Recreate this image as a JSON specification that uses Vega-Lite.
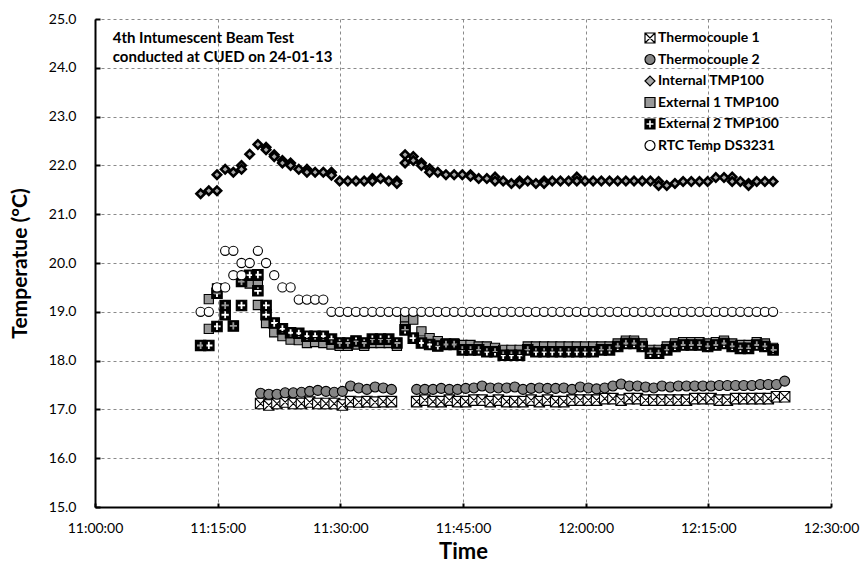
{
  "$schema": "https://vega.github.io/schema/vega-lite/v6.json",
  "width": 736,
  "height": 488,
  "autosize": {"type": "none"},
  "padding": {"left": 95, "top": 19, "right": 33, "bottom": 56},
  "background": "white",
  "config": {"view": {"stroke": null}, "font": "Lato"},
  "datasets": {
    "pts": [
      {"s":"Thermocouple 1","t":"2013-01-24T11:20:15","v":17.12},{"s":"Thermocouple 1","t":"2013-01-24T11:21:15","v":17.09},{"s":"Thermocouple 1","t":"2013-01-24T11:22:15","v":17.12},{"s":"Thermocouple 1","t":"2013-01-24T11:23:15","v":17.15},{"s":"Thermocouple 1","t":"2013-01-24T11:24:15","v":17.12},{"s":"Thermocouple 1","t":"2013-01-24T11:25:15","v":17.12},{"s":"Thermocouple 1","t":"2013-01-24T11:26:15","v":17.15},{"s":"Thermocouple 1","t":"2013-01-24T11:27:15","v":17.12},{"s":"Thermocouple 1","t":"2013-01-24T11:28:15","v":17.12},{"s":"Thermocouple 1","t":"2013-01-24T11:29:15","v":17.12},{"s":"Thermocouple 1","t":"2013-01-24T11:30:15","v":17.09},{"s":"Thermocouple 1","t":"2013-01-24T11:31:15","v":17.16},{"s":"Thermocouple 1","t":"2013-01-24T11:32:15","v":17.15},{"s":"Thermocouple 1","t":"2013-01-24T11:33:15","v":17.16},{"s":"Thermocouple 1","t":"2013-01-24T11:34:15","v":17.15},{"s":"Thermocouple 1","t":"2013-01-24T11:35:15","v":17.16},{"s":"Thermocouple 1","t":"2013-01-24T11:36:15","v":17.16},
      {"s":"Thermocouple 1","t":"2013-01-24T11:39:20","v":17.16},{"s":"Thermocouple 1","t":"2013-01-24T11:40:20","v":17.19},{"s":"Thermocouple 1","t":"2013-01-24T11:41:20","v":17.16},{"s":"Thermocouple 1","t":"2013-01-24T11:42:20","v":17.16},{"s":"Thermocouple 1","t":"2013-01-24T11:43:20","v":17.19},{"s":"Thermocouple 1","t":"2013-01-24T11:44:20","v":17.16},{"s":"Thermocouple 1","t":"2013-01-24T11:45:20","v":17.16},{"s":"Thermocouple 1","t":"2013-01-24T11:46:20","v":17.19},{"s":"Thermocouple 1","t":"2013-01-24T11:47:20","v":17.19},{"s":"Thermocouple 1","t":"2013-01-24T11:48:20","v":17.16},{"s":"Thermocouple 1","t":"2013-01-24T11:49:20","v":17.19},{"s":"Thermocouple 1","t":"2013-01-24T11:50:20","v":17.16},{"s":"Thermocouple 1","t":"2013-01-24T11:51:20","v":17.16},{"s":"Thermocouple 1","t":"2013-01-24T11:52:20","v":17.16},{"s":"Thermocouple 1","t":"2013-01-24T11:53:20","v":17.19},{"s":"Thermocouple 1","t":"2013-01-24T11:54:20","v":17.16},{"s":"Thermocouple 1","t":"2013-01-24T11:55:20","v":17.19},{"s":"Thermocouple 1","t":"2013-01-24T11:56:20","v":17.16},{"s":"Thermocouple 1","t":"2013-01-24T11:57:20","v":17.16},{"s":"Thermocouple 1","t":"2013-01-24T11:58:20","v":17.19},{"s":"Thermocouple 1","t":"2013-01-24T11:59:20","v":17.19},{"s":"Thermocouple 1","t":"2013-01-24T12:00:20","v":17.19},{"s":"Thermocouple 1","t":"2013-01-24T12:01:20","v":17.19},{"s":"Thermocouple 1","t":"2013-01-24T12:02:20","v":17.22},{"s":"Thermocouple 1","t":"2013-01-24T12:03:20","v":17.22},{"s":"Thermocouple 1","t":"2013-01-24T12:04:20","v":17.19},{"s":"Thermocouple 1","t":"2013-01-24T12:05:20","v":17.22},{"s":"Thermocouple 1","t":"2013-01-24T12:06:20","v":17.22},{"s":"Thermocouple 1","t":"2013-01-24T12:07:20","v":17.19},{"s":"Thermocouple 1","t":"2013-01-24T12:08:20","v":17.19},{"s":"Thermocouple 1","t":"2013-01-24T12:09:20","v":17.19},{"s":"Thermocouple 1","t":"2013-01-24T12:10:20","v":17.19},{"s":"Thermocouple 1","t":"2013-01-24T12:11:20","v":17.19},{"s":"Thermocouple 1","t":"2013-01-24T12:12:20","v":17.19},{"s":"Thermocouple 1","t":"2013-01-24T12:13:20","v":17.22},{"s":"Thermocouple 1","t":"2013-01-24T12:14:20","v":17.22},{"s":"Thermocouple 1","t":"2013-01-24T12:15:20","v":17.22},{"s":"Thermocouple 1","t":"2013-01-24T12:16:20","v":17.19},{"s":"Thermocouple 1","t":"2013-01-24T12:17:20","v":17.19},{"s":"Thermocouple 1","t":"2013-01-24T12:18:20","v":17.22},{"s":"Thermocouple 1","t":"2013-01-24T12:19:20","v":17.22},{"s":"Thermocouple 1","t":"2013-01-24T12:20:20","v":17.22},{"s":"Thermocouple 1","t":"2013-01-24T12:21:20","v":17.22},{"s":"Thermocouple 1","t":"2013-01-24T12:22:20","v":17.22},{"s":"Thermocouple 1","t":"2013-01-24T12:23:20","v":17.26},{"s":"Thermocouple 1","t":"2013-01-24T12:24:20","v":17.26},
      {"s":"Thermocouple 2","t":"2013-01-24T11:20:15","v":17.33},{"s":"Thermocouple 2","t":"2013-01-24T11:21:15","v":17.31},{"s":"Thermocouple 2","t":"2013-01-24T11:22:15","v":17.31},{"s":"Thermocouple 2","t":"2013-01-24T11:23:15","v":17.34},{"s":"Thermocouple 2","t":"2013-01-24T11:24:15","v":17.34},{"s":"Thermocouple 2","t":"2013-01-24T11:25:15","v":17.35},{"s":"Thermocouple 2","t":"2013-01-24T11:26:15","v":17.37},{"s":"Thermocouple 2","t":"2013-01-24T11:27:15","v":17.39},{"s":"Thermocouple 2","t":"2013-01-24T11:28:15","v":17.37},{"s":"Thermocouple 2","t":"2013-01-24T11:29:15","v":17.35},{"s":"Thermocouple 2","t":"2013-01-24T11:30:15","v":17.37},{"s":"Thermocouple 2","t":"2013-01-24T11:31:15","v":17.48},{"s":"Thermocouple 2","t":"2013-01-24T11:32:15","v":17.44},{"s":"Thermocouple 2","t":"2013-01-24T11:33:15","v":17.41},{"s":"Thermocouple 2","t":"2013-01-24T11:34:15","v":17.46},{"s":"Thermocouple 2","t":"2013-01-24T11:35:15","v":17.44},{"s":"Thermocouple 2","t":"2013-01-24T11:36:15","v":17.41},
      {"s":"Thermocouple 2","t":"2013-01-24T11:39:20","v":17.41},{"s":"Thermocouple 2","t":"2013-01-24T11:40:20","v":17.41},{"s":"Thermocouple 2","t":"2013-01-24T11:41:20","v":17.41},{"s":"Thermocouple 2","t":"2013-01-24T11:42:20","v":17.43},{"s":"Thermocouple 2","t":"2013-01-24T11:43:20","v":17.41},{"s":"Thermocouple 2","t":"2013-01-24T11:44:20","v":17.41},{"s":"Thermocouple 2","t":"2013-01-24T11:45:20","v":17.43},{"s":"Thermocouple 2","t":"2013-01-24T11:46:20","v":17.44},{"s":"Thermocouple 2","t":"2013-01-24T11:47:20","v":17.48},{"s":"Thermocouple 2","t":"2013-01-24T11:48:20","v":17.44},{"s":"Thermocouple 2","t":"2013-01-24T11:49:20","v":17.44},{"s":"Thermocouple 2","t":"2013-01-24T11:50:20","v":17.44},{"s":"Thermocouple 2","t":"2013-01-24T11:51:20","v":17.46},{"s":"Thermocouple 2","t":"2013-01-24T11:52:20","v":17.41},{"s":"Thermocouple 2","t":"2013-01-24T11:53:20","v":17.43},{"s":"Thermocouple 2","t":"2013-01-24T11:54:20","v":17.44},{"s":"Thermocouple 2","t":"2013-01-24T11:55:20","v":17.43},{"s":"Thermocouple 2","t":"2013-01-24T11:56:20","v":17.43},{"s":"Thermocouple 2","t":"2013-01-24T11:57:20","v":17.44},{"s":"Thermocouple 2","t":"2013-01-24T11:58:20","v":17.41},{"s":"Thermocouple 2","t":"2013-01-24T11:59:20","v":17.46},{"s":"Thermocouple 2","t":"2013-01-24T12:00:20","v":17.44},{"s":"Thermocouple 2","t":"2013-01-24T12:01:20","v":17.42},{"s":"Thermocouple 2","t":"2013-01-24T12:02:20","v":17.44},{"s":"Thermocouple 2","t":"2013-01-24T12:03:20","v":17.48},{"s":"Thermocouple 2","t":"2013-01-24T12:04:20","v":17.52},{"s":"Thermocouple 2","t":"2013-01-24T12:05:20","v":17.48},{"s":"Thermocouple 2","t":"2013-01-24T12:06:20","v":17.48},{"s":"Thermocouple 2","t":"2013-01-24T12:07:20","v":17.46},{"s":"Thermocouple 2","t":"2013-01-24T12:08:20","v":17.44},{"s":"Thermocouple 2","t":"2013-01-24T12:09:20","v":17.48},{"s":"Thermocouple 2","t":"2013-01-24T12:10:20","v":17.46},{"s":"Thermocouple 2","t":"2013-01-24T12:11:20","v":17.48},{"s":"Thermocouple 2","t":"2013-01-24T12:12:20","v":17.48},{"s":"Thermocouple 2","t":"2013-01-24T12:13:20","v":17.48},{"s":"Thermocouple 2","t":"2013-01-24T12:14:20","v":17.48},{"s":"Thermocouple 2","t":"2013-01-24T12:15:20","v":17.48},{"s":"Thermocouple 2","t":"2013-01-24T12:16:20","v":17.49},{"s":"Thermocouple 2","t":"2013-01-24T12:17:20","v":17.49},{"s":"Thermocouple 2","t":"2013-01-24T12:18:20","v":17.49},{"s":"Thermocouple 2","t":"2013-01-24T12:19:20","v":17.49},{"s":"Thermocouple 2","t":"2013-01-24T12:20:20","v":17.49},{"s":"Thermocouple 2","t":"2013-01-24T12:21:20","v":17.51},{"s":"Thermocouple 2","t":"2013-01-24T12:22:20","v":17.51},{"s":"Thermocouple 2","t":"2013-01-24T12:23:20","v":17.51},{"s":"Thermocouple 2","t":"2013-01-24T12:24:20","v":17.58},
      {"s":"Internal TMP100","t":"2013-01-24T11:12:55","v":21.42},{"s":"Internal TMP100","t":"2013-01-24T11:13:55","v":21.48},{"s":"Internal TMP100","t":"2013-01-24T11:14:55","v":21.48},{"s":"Internal TMP100","t":"2013-01-24T11:14:55","v":21.81},{"s":"Internal TMP100","t":"2013-01-24T11:15:55","v":21.92},{"s":"Internal TMP100","t":"2013-01-24T11:16:55","v":21.86},{"s":"Internal TMP100","t":"2013-01-24T11:17:55","v":22.0},{"s":"Internal TMP100","t":"2013-01-24T11:17:55","v":21.92},{"s":"Internal TMP100","t":"2013-01-24T11:18:55","v":22.23},{"s":"Internal TMP100","t":"2013-01-24T11:19:55","v":22.43},{"s":"Internal TMP100","t":"2013-01-24T11:20:55","v":22.37},{"s":"Internal TMP100","t":"2013-01-24T11:20:55","v":22.32},{"s":"Internal TMP100","t":"2013-01-24T11:21:55","v":22.22},{"s":"Internal TMP100","t":"2013-01-24T11:21:55","v":22.18},{"s":"Internal TMP100","t":"2013-01-24T11:22:55","v":22.1},{"s":"Internal TMP100","t":"2013-01-24T11:22:55","v":22.05},{"s":"Internal TMP100","t":"2013-01-24T11:23:55","v":22.05},{"s":"Internal TMP100","t":"2013-01-24T11:23:55","v":22.0},{"s":"Internal TMP100","t":"2013-01-24T11:24:55","v":21.92},{"s":"Internal TMP100","t":"2013-01-24T11:25:55","v":21.92},{"s":"Internal TMP100","t":"2013-01-24T11:25:55","v":21.86},{"s":"Internal TMP100","t":"2013-01-24T11:26:55","v":21.86},{"s":"Internal TMP100","t":"2013-01-24T11:27:55","v":21.86},{"s":"Internal TMP100","t":"2013-01-24T11:28:55","v":21.86},{"s":"Internal TMP100","t":"2013-01-24T11:28:55","v":21.8},{"s":"Internal TMP100","t":"2013-01-24T11:29:55","v":21.68},{"s":"Internal TMP100","t":"2013-01-24T11:30:55","v":21.68},{"s":"Internal TMP100","t":"2013-01-24T11:31:55","v":21.68},{"s":"Internal TMP100","t":"2013-01-24T11:32:55","v":21.68},{"s":"Internal TMP100","t":"2013-01-24T11:33:55","v":21.73},{"s":"Internal TMP100","t":"2013-01-24T11:33:55","v":21.68},{"s":"Internal TMP100","t":"2013-01-24T11:34:55","v":21.73},{"s":"Internal TMP100","t":"2013-01-24T11:35:55","v":21.68},{"s":"Internal TMP100","t":"2013-01-24T11:36:55","v":21.68},{"s":"Internal TMP100","t":"2013-01-24T11:36:55","v":21.63},{"s":"Internal TMP100","t":"2013-01-24T11:37:55","v":22.22},{"s":"Internal TMP100","t":"2013-01-24T11:37:55","v":22.05},{"s":"Internal TMP100","t":"2013-01-24T11:38:55","v":22.18},{"s":"Internal TMP100","t":"2013-01-24T11:38:55","v":22.1},{"s":"Internal TMP100","t":"2013-01-24T11:39:55","v":22.05},{"s":"Internal TMP100","t":"2013-01-24T11:39:55","v":22.0},{"s":"Internal TMP100","t":"2013-01-24T11:40:55","v":21.93},{"s":"Internal TMP100","t":"2013-01-24T11:40:55","v":21.86},{"s":"Internal TMP100","t":"2013-01-24T11:41:55","v":21.86},{"s":"Internal TMP100","t":"2013-01-24T11:42:55","v":21.81},{"s":"Internal TMP100","t":"2013-01-24T11:43:55","v":21.81},{"s":"Internal TMP100","t":"2013-01-24T11:44:55","v":21.81},{"s":"Internal TMP100","t":"2013-01-24T11:45:55","v":21.81},{"s":"Internal TMP100","t":"2013-01-24T11:45:55","v":21.78},{"s":"Internal TMP100","t":"2013-01-24T11:46:55","v":21.73},{"s":"Internal TMP100","t":"2013-01-24T11:47:55","v":21.73},{"s":"Internal TMP100","t":"2013-01-24T11:48:55","v":21.76},{"s":"Internal TMP100","t":"2013-01-24T11:48:55","v":21.68},{"s":"Internal TMP100","t":"2013-01-24T11:49:55","v":21.68},{"s":"Internal TMP100","t":"2013-01-24T11:50:55","v":21.63},{"s":"Internal TMP100","t":"2013-01-24T11:51:55","v":21.68},{"s":"Internal TMP100","t":"2013-01-24T11:51:55","v":21.63},{"s":"Internal TMP100","t":"2013-01-24T11:52:55","v":21.68},{"s":"Internal TMP100","t":"2013-01-24T11:53:55","v":21.63},{"s":"Internal TMP100","t":"2013-01-24T11:54:55","v":21.68},{"s":"Internal TMP100","t":"2013-01-24T11:54:55","v":21.63},{"s":"Internal TMP100","t":"2013-01-24T11:55:55","v":21.68},{"s":"Internal TMP100","t":"2013-01-24T11:56:55","v":21.68},{"s":"Internal TMP100","t":"2013-01-24T11:57:55","v":21.68},{"s":"Internal TMP100","t":"2013-01-24T11:58:55","v":21.76},{"s":"Internal TMP100","t":"2013-01-24T11:58:55","v":21.68},{"s":"Internal TMP100","t":"2013-01-24T11:59:55","v":21.68},{"s":"Internal TMP100","t":"2013-01-24T12:00:55","v":21.68},{"s":"Internal TMP100","t":"2013-01-24T12:01:55","v":21.68},{"s":"Internal TMP100","t":"2013-01-24T12:02:55","v":21.68},{"s":"Internal TMP100","t":"2013-01-24T12:03:55","v":21.68},{"s":"Internal TMP100","t":"2013-01-24T12:04:55","v":21.68},{"s":"Internal TMP100","t":"2013-01-24T12:05:55","v":21.68},{"s":"Internal TMP100","t":"2013-01-24T12:06:55","v":21.68},{"s":"Internal TMP100","t":"2013-01-24T12:07:55","v":21.68},{"s":"Internal TMP100","t":"2013-01-24T12:08:55","v":21.67},{"s":"Internal TMP100","t":"2013-01-24T12:08:55","v":21.59},{"s":"Internal TMP100","t":"2013-01-24T12:09:55","v":21.59},{"s":"Internal TMP100","t":"2013-01-24T12:10:55","v":21.63},{"s":"Internal TMP100","t":"2013-01-24T12:11:55","v":21.67},{"s":"Internal TMP100","t":"2013-01-24T12:12:55","v":21.67},{"s":"Internal TMP100","t":"2013-01-24T12:13:55","v":21.67},{"s":"Internal TMP100","t":"2013-01-24T12:14:55","v":21.67},{"s":"Internal TMP100","t":"2013-01-24T12:15:55","v":21.75},{"s":"Internal TMP100","t":"2013-01-24T12:16:55","v":21.75},{"s":"Internal TMP100","t":"2013-01-24T12:17:55","v":21.76},{"s":"Internal TMP100","t":"2013-01-24T12:17:55","v":21.67},{"s":"Internal TMP100","t":"2013-01-24T12:18:55","v":21.67},{"s":"Internal TMP100","t":"2013-01-24T12:19:55","v":21.63},{"s":"Internal TMP100","t":"2013-01-24T12:19:55","v":21.59},{"s":"Internal TMP100","t":"2013-01-24T12:20:55","v":21.67},{"s":"Internal TMP100","t":"2013-01-24T12:21:55","v":21.67},{"s":"Internal TMP100","t":"2013-01-24T12:22:55","v":21.67},
      {"s":"External 1 TMP100","t":"2013-01-24T11:12:55","v":18.31},{"s":"External 1 TMP100","t":"2013-01-24T11:13:55","v":19.26},{"s":"External 1 TMP100","t":"2013-01-24T11:13:55","v":18.65},{"s":"External 1 TMP100","t":"2013-01-24T11:14:55","v":19.48},{"s":"External 1 TMP100","t":"2013-01-24T11:15:55","v":19.13},{"s":"External 1 TMP100","t":"2013-01-24T11:16:55","v":18.71},{"s":"External 1 TMP100","t":"2013-01-24T11:17:55","v":19.62},{"s":"External 1 TMP100","t":"2013-01-24T11:18:55","v":19.58},{"s":"External 1 TMP100","t":"2013-01-24T11:19:55","v":19.55},{"s":"External 1 TMP100","t":"2013-01-24T11:19:55","v":19.14},{"s":"External 1 TMP100","t":"2013-01-24T11:20:55","v":18.77},{"s":"External 1 TMP100","t":"2013-01-24T11:21:55","v":18.58},{"s":"External 1 TMP100","t":"2013-01-24T11:22:55","v":18.5},{"s":"External 1 TMP100","t":"2013-01-24T11:23:55","v":18.43},{"s":"External 1 TMP100","t":"2013-01-24T11:24:55","v":18.42},{"s":"External 1 TMP100","t":"2013-01-24T11:25:55","v":18.36},{"s":"External 1 TMP100","t":"2013-01-24T11:26:55","v":18.38},{"s":"External 1 TMP100","t":"2013-01-24T11:27:55","v":18.36},{"s":"External 1 TMP100","t":"2013-01-24T11:28:55","v":18.33},{"s":"External 1 TMP100","t":"2013-01-24T11:29:55","v":18.3},{"s":"External 1 TMP100","t":"2013-01-24T11:30:55","v":18.3},{"s":"External 1 TMP100","t":"2013-01-24T11:31:55","v":18.33},{"s":"External 1 TMP100","t":"2013-01-24T11:32:55","v":18.3},{"s":"External 1 TMP100","t":"2013-01-24T11:33:55","v":18.36},{"s":"External 1 TMP100","t":"2013-01-24T11:34:55","v":18.36},{"s":"External 1 TMP100","t":"2013-01-24T11:35:55","v":18.36},{"s":"External 1 TMP100","t":"2013-01-24T11:36:55","v":18.3},{"s":"External 1 TMP100","t":"2013-01-24T11:37:55","v":18.87},{"s":"External 1 TMP100","t":"2013-01-24T11:37:55","v":18.7},{"s":"External 1 TMP100","t":"2013-01-24T11:38:55","v":18.84},{"s":"External 1 TMP100","t":"2013-01-24T11:39:55","v":18.6},{"s":"External 1 TMP100","t":"2013-01-24T11:40:55","v":18.46},{"s":"External 1 TMP100","t":"2013-01-24T11:41:55","v":18.4},{"s":"External 1 TMP100","t":"2013-01-24T11:42:55","v":18.35},{"s":"External 1 TMP100","t":"2013-01-24T11:43:55","v":18.35},{"s":"External 1 TMP100","t":"2013-01-24T11:44:55","v":18.32},{"s":"External 1 TMP100","t":"2013-01-24T11:45:55","v":18.32},{"s":"External 1 TMP100","t":"2013-01-24T11:46:55","v":18.29},{"s":"External 1 TMP100","t":"2013-01-24T11:47:55","v":18.29},{"s":"External 1 TMP100","t":"2013-01-24T11:48:55","v":18.26},{"s":"External 1 TMP100","t":"2013-01-24T11:49:55","v":18.22},{"s":"External 1 TMP100","t":"2013-01-24T11:50:55","v":18.22},{"s":"External 1 TMP100","t":"2013-01-24T11:51:55","v":18.22},{"s":"External 1 TMP100","t":"2013-01-24T11:52:55","v":18.29},{"s":"External 1 TMP100","t":"2013-01-24T11:53:55","v":18.29},{"s":"External 1 TMP100","t":"2013-01-24T11:54:55","v":18.29},{"s":"External 1 TMP100","t":"2013-01-24T11:55:55","v":18.29},{"s":"External 1 TMP100","t":"2013-01-24T11:56:55","v":18.29},{"s":"External 1 TMP100","t":"2013-01-24T11:57:55","v":18.29},{"s":"External 1 TMP100","t":"2013-01-24T11:58:55","v":18.29},{"s":"External 1 TMP100","t":"2013-01-24T11:59:55","v":18.29},{"s":"External 1 TMP100","t":"2013-01-24T12:00:55","v":18.29},{"s":"External 1 TMP100","t":"2013-01-24T12:01:55","v":18.29},{"s":"External 1 TMP100","t":"2013-01-24T12:02:55","v":18.29},{"s":"External 1 TMP100","t":"2013-01-24T12:03:55","v":18.35},{"s":"External 1 TMP100","t":"2013-01-24T12:04:55","v":18.41},{"s":"External 1 TMP100","t":"2013-01-24T12:05:55","v":18.41},{"s":"External 1 TMP100","t":"2013-01-24T12:06:55","v":18.35},{"s":"External 1 TMP100","t":"2013-01-24T12:07:55","v":18.22},{"s":"External 1 TMP100","t":"2013-01-24T12:08:55","v":18.22},{"s":"External 1 TMP100","t":"2013-01-24T12:09:55","v":18.29},{"s":"External 1 TMP100","t":"2013-01-24T12:10:55","v":18.35},{"s":"External 1 TMP100","t":"2013-01-24T12:11:55","v":18.38},{"s":"External 1 TMP100","t":"2013-01-24T12:12:55","v":18.38},{"s":"External 1 TMP100","t":"2013-01-24T12:13:55","v":18.38},{"s":"External 1 TMP100","t":"2013-01-24T12:14:55","v":18.35},{"s":"External 1 TMP100","t":"2013-01-24T12:15:55","v":18.38},{"s":"External 1 TMP100","t":"2013-01-24T12:16:55","v":18.41},{"s":"External 1 TMP100","t":"2013-01-24T12:17:55","v":18.35},{"s":"External 1 TMP100","t":"2013-01-24T12:18:55","v":18.32},{"s":"External 1 TMP100","t":"2013-01-24T12:19:55","v":18.32},{"s":"External 1 TMP100","t":"2013-01-24T12:20:55","v":18.38},{"s":"External 1 TMP100","t":"2013-01-24T12:21:55","v":18.35},{"s":"External 1 TMP100","t":"2013-01-24T12:22:55","v":18.26},
      {"s":"External 2 TMP100","t":"2013-01-24T11:12:55","v":18.31},{"s":"External 2 TMP100","t":"2013-01-24T11:13:55","v":18.31},{"s":"External 2 TMP100","t":"2013-01-24T11:14:55","v":18.7},{"s":"External 2 TMP100","t":"2013-01-24T11:14:55","v":19.38},{"s":"External 2 TMP100","t":"2013-01-24T11:15:55","v":19.13},{"s":"External 2 TMP100","t":"2013-01-24T11:15:55","v":18.94},{"s":"External 2 TMP100","t":"2013-01-24T11:16:55","v":18.71},{"s":"External 2 TMP100","t":"2013-01-24T11:17:55","v":19.13},{"s":"External 2 TMP100","t":"2013-01-24T11:17:55","v":19.62},{"s":"External 2 TMP100","t":"2013-01-24T11:18:55","v":19.75},{"s":"External 2 TMP100","t":"2013-01-24T11:19:55","v":19.76},{"s":"External 2 TMP100","t":"2013-01-24T11:19:55","v":19.43},{"s":"External 2 TMP100","t":"2013-01-24T11:20:55","v":19.13},{"s":"External 2 TMP100","t":"2013-01-24T11:20:55","v":18.94},{"s":"External 2 TMP100","t":"2013-01-24T11:21:55","v":18.77},{"s":"External 2 TMP100","t":"2013-01-24T11:22:55","v":18.65},{"s":"External 2 TMP100","t":"2013-01-24T11:23:55","v":18.57},{"s":"External 2 TMP100","t":"2013-01-24T11:24:55","v":18.56},{"s":"External 2 TMP100","t":"2013-01-24T11:25:55","v":18.5},{"s":"External 2 TMP100","t":"2013-01-24T11:26:55","v":18.5},{"s":"External 2 TMP100","t":"2013-01-24T11:27:55","v":18.5},{"s":"External 2 TMP100","t":"2013-01-24T11:28:55","v":18.44},{"s":"External 2 TMP100","t":"2013-01-24T11:29:55","v":18.36},{"s":"External 2 TMP100","t":"2013-01-24T11:30:55","v":18.36},{"s":"External 2 TMP100","t":"2013-01-24T11:31:55","v":18.4},{"s":"External 2 TMP100","t":"2013-01-24T11:32:55","v":18.36},{"s":"External 2 TMP100","t":"2013-01-24T11:33:55","v":18.44},{"s":"External 2 TMP100","t":"2013-01-24T11:34:55","v":18.44},{"s":"External 2 TMP100","t":"2013-01-24T11:35:55","v":18.44},{"s":"External 2 TMP100","t":"2013-01-24T11:36:55","v":18.36},{"s":"External 2 TMP100","t":"2013-01-24T11:37:55","v":18.63},{"s":"External 2 TMP100","t":"2013-01-24T11:38:55","v":18.46},{"s":"External 2 TMP100","t":"2013-01-24T11:39:55","v":18.36},{"s":"External 2 TMP100","t":"2013-01-24T11:40:55","v":18.33},{"s":"External 2 TMP100","t":"2013-01-24T11:41:55","v":18.3},{"s":"External 2 TMP100","t":"2013-01-24T11:42:55","v":18.33},{"s":"External 2 TMP100","t":"2013-01-24T11:43:55","v":18.33},{"s":"External 2 TMP100","t":"2013-01-24T11:44:55","v":18.22},{"s":"External 2 TMP100","t":"2013-01-24T11:45:55","v":18.22},{"s":"External 2 TMP100","t":"2013-01-24T11:46:55","v":18.22},{"s":"External 2 TMP100","t":"2013-01-24T11:47:55","v":18.18},{"s":"External 2 TMP100","t":"2013-01-24T11:48:55","v":18.18},{"s":"External 2 TMP100","t":"2013-01-24T11:49:55","v":18.11},{"s":"External 2 TMP100","t":"2013-01-24T11:50:55","v":18.11},{"s":"External 2 TMP100","t":"2013-01-24T11:51:55","v":18.11},{"s":"External 2 TMP100","t":"2013-01-24T11:52:55","v":18.22},{"s":"External 2 TMP100","t":"2013-01-24T11:53:55","v":18.18},{"s":"External 2 TMP100","t":"2013-01-24T11:54:55","v":18.18},{"s":"External 2 TMP100","t":"2013-01-24T11:55:55","v":18.18},{"s":"External 2 TMP100","t":"2013-01-24T11:56:55","v":18.18},{"s":"External 2 TMP100","t":"2013-01-24T11:57:55","v":18.18},{"s":"External 2 TMP100","t":"2013-01-24T11:58:55","v":18.18},{"s":"External 2 TMP100","t":"2013-01-24T11:59:55","v":18.18},{"s":"External 2 TMP100","t":"2013-01-24T12:00:55","v":18.18},{"s":"External 2 TMP100","t":"2013-01-24T12:01:55","v":18.22},{"s":"External 2 TMP100","t":"2013-01-24T12:02:55","v":18.22},{"s":"External 2 TMP100","t":"2013-01-24T12:03:55","v":18.29},{"s":"External 2 TMP100","t":"2013-01-24T12:04:55","v":18.35},{"s":"External 2 TMP100","t":"2013-01-24T12:05:55","v":18.35},{"s":"External 2 TMP100","t":"2013-01-24T12:06:55","v":18.29},{"s":"External 2 TMP100","t":"2013-01-24T12:07:55","v":18.15},{"s":"External 2 TMP100","t":"2013-01-24T12:08:55","v":18.15},{"s":"External 2 TMP100","t":"2013-01-24T12:09:55","v":18.22},{"s":"External 2 TMP100","t":"2013-01-24T12:10:55","v":18.29},{"s":"External 2 TMP100","t":"2013-01-24T12:11:55","v":18.32},{"s":"External 2 TMP100","t":"2013-01-24T12:12:55","v":18.32},{"s":"External 2 TMP100","t":"2013-01-24T12:13:55","v":18.32},{"s":"External 2 TMP100","t":"2013-01-24T12:14:55","v":18.29},{"s":"External 2 TMP100","t":"2013-01-24T12:15:55","v":18.32},{"s":"External 2 TMP100","t":"2013-01-24T12:16:55","v":18.35},{"s":"External 2 TMP100","t":"2013-01-24T12:17:55","v":18.29},{"s":"External 2 TMP100","t":"2013-01-24T12:18:55","v":18.25},{"s":"External 2 TMP100","t":"2013-01-24T12:19:55","v":18.25},{"s":"External 2 TMP100","t":"2013-01-24T12:20:55","v":18.32},{"s":"External 2 TMP100","t":"2013-01-24T12:21:55","v":18.29},{"s":"External 2 TMP100","t":"2013-01-24T12:22:55","v":18.22},
      {"s":"RTC Temp DS3231","t":"2013-01-24T11:12:55","v":19.0},{"s":"RTC Temp DS3231","t":"2013-01-24T11:13:55","v":19.0},{"s":"RTC Temp DS3231","t":"2013-01-24T11:14:55","v":19.5},{"s":"RTC Temp DS3231","t":"2013-01-24T11:15:55","v":19.5},{"s":"RTC Temp DS3231","t":"2013-01-24T11:15:55","v":20.25},{"s":"RTC Temp DS3231","t":"2013-01-24T11:16:55","v":20.25},{"s":"RTC Temp DS3231","t":"2013-01-24T11:16:55","v":19.75},{"s":"RTC Temp DS3231","t":"2013-01-24T11:17:55","v":19.75},{"s":"RTC Temp DS3231","t":"2013-01-24T11:17:55","v":20.0},{"s":"RTC Temp DS3231","t":"2013-01-24T11:18:55","v":20.0},{"s":"RTC Temp DS3231","t":"2013-01-24T11:19:55","v":20.25},{"s":"RTC Temp DS3231","t":"2013-01-24T11:20:55","v":20.0},{"s":"RTC Temp DS3231","t":"2013-01-24T11:21:55","v":19.75},{"s":"RTC Temp DS3231","t":"2013-01-24T11:22:55","v":19.5},{"s":"RTC Temp DS3231","t":"2013-01-24T11:23:55","v":19.5},{"s":"RTC Temp DS3231","t":"2013-01-24T11:24:55","v":19.25},{"s":"RTC Temp DS3231","t":"2013-01-24T11:25:55","v":19.25},{"s":"RTC Temp DS3231","t":"2013-01-24T11:26:55","v":19.25},{"s":"RTC Temp DS3231","t":"2013-01-24T11:27:55","v":19.25},
      {"s":"RTC Temp DS3231","t":"2013-01-24T11:28:55","v":19.0},{"s":"RTC Temp DS3231","t":"2013-01-24T11:29:55","v":19.0},{"s":"RTC Temp DS3231","t":"2013-01-24T11:30:55","v":19.0},{"s":"RTC Temp DS3231","t":"2013-01-24T11:31:55","v":19.0},{"s":"RTC Temp DS3231","t":"2013-01-24T11:32:55","v":19.0},{"s":"RTC Temp DS3231","t":"2013-01-24T11:33:55","v":19.0},{"s":"RTC Temp DS3231","t":"2013-01-24T11:34:55","v":19.0},{"s":"RTC Temp DS3231","t":"2013-01-24T11:35:55","v":19.0},{"s":"RTC Temp DS3231","t":"2013-01-24T11:36:55","v":19.0},{"s":"RTC Temp DS3231","t":"2013-01-24T11:37:55","v":19.0},{"s":"RTC Temp DS3231","t":"2013-01-24T11:38:55","v":19.0},{"s":"RTC Temp DS3231","t":"2013-01-24T11:39:55","v":19.0},{"s":"RTC Temp DS3231","t":"2013-01-24T11:40:55","v":19.0},{"s":"RTC Temp DS3231","t":"2013-01-24T11:41:55","v":19.0},{"s":"RTC Temp DS3231","t":"2013-01-24T11:42:55","v":19.0},{"s":"RTC Temp DS3231","t":"2013-01-24T11:43:55","v":19.0},{"s":"RTC Temp DS3231","t":"2013-01-24T11:44:55","v":19.0},{"s":"RTC Temp DS3231","t":"2013-01-24T11:45:55","v":19.0},{"s":"RTC Temp DS3231","t":"2013-01-24T11:46:55","v":19.0},{"s":"RTC Temp DS3231","t":"2013-01-24T11:47:55","v":19.0},{"s":"RTC Temp DS3231","t":"2013-01-24T11:48:55","v":19.0},{"s":"RTC Temp DS3231","t":"2013-01-24T11:49:55","v":19.0},{"s":"RTC Temp DS3231","t":"2013-01-24T11:50:55","v":19.0},{"s":"RTC Temp DS3231","t":"2013-01-24T11:51:55","v":19.0},{"s":"RTC Temp DS3231","t":"2013-01-24T11:52:55","v":19.0},{"s":"RTC Temp DS3231","t":"2013-01-24T11:53:55","v":19.0},{"s":"RTC Temp DS3231","t":"2013-01-24T11:54:55","v":19.0},{"s":"RTC Temp DS3231","t":"2013-01-24T11:55:55","v":19.0},{"s":"RTC Temp DS3231","t":"2013-01-24T11:56:55","v":19.0},{"s":"RTC Temp DS3231","t":"2013-01-24T11:57:55","v":19.0},{"s":"RTC Temp DS3231","t":"2013-01-24T11:58:55","v":19.0},{"s":"RTC Temp DS3231","t":"2013-01-24T11:59:55","v":19.0},{"s":"RTC Temp DS3231","t":"2013-01-24T12:00:55","v":19.0},{"s":"RTC Temp DS3231","t":"2013-01-24T12:01:55","v":19.0},{"s":"RTC Temp DS3231","t":"2013-01-24T12:02:55","v":19.0},{"s":"RTC Temp DS3231","t":"2013-01-24T12:03:55","v":19.0},{"s":"RTC Temp DS3231","t":"2013-01-24T12:04:55","v":19.0},{"s":"RTC Temp DS3231","t":"2013-01-24T12:05:55","v":19.0},{"s":"RTC Temp DS3231","t":"2013-01-24T12:06:55","v":19.0},{"s":"RTC Temp DS3231","t":"2013-01-24T12:07:55","v":19.0},{"s":"RTC Temp DS3231","t":"2013-01-24T12:08:55","v":19.0},{"s":"RTC Temp DS3231","t":"2013-01-24T12:09:55","v":19.0},{"s":"RTC Temp DS3231","t":"2013-01-24T12:10:55","v":19.0},{"s":"RTC Temp DS3231","t":"2013-01-24T12:11:55","v":19.0},{"s":"RTC Temp DS3231","t":"2013-01-24T12:12:55","v":19.0},{"s":"RTC Temp DS3231","t":"2013-01-24T12:13:55","v":19.0},{"s":"RTC Temp DS3231","t":"2013-01-24T12:14:55","v":19.0},{"s":"RTC Temp DS3231","t":"2013-01-24T12:15:55","v":19.0},{"s":"RTC Temp DS3231","t":"2013-01-24T12:16:55","v":19.0},{"s":"RTC Temp DS3231","t":"2013-01-24T12:17:55","v":19.0},{"s":"RTC Temp DS3231","t":"2013-01-24T12:18:55","v":19.0},{"s":"RTC Temp DS3231","t":"2013-01-24T12:19:55","v":19.0},{"s":"RTC Temp DS3231","t":"2013-01-24T12:20:55","v":19.0},{"s":"RTC Temp DS3231","t":"2013-01-24T12:21:55","v":19.0},{"s":"RTC Temp DS3231","t":"2013-01-24T12:22:55","v":19.0}
    ],
    "notes": [
      {"t": "2013-01-24T11:02:10", "v": 24.61, "label": "4th Intumescent Beam Test"},
      {"t": "2013-01-24T11:02:10", "v": 24.22, "label": "conducted at CUED on 24-01-13"}
    ]
  },
  "layer": [
    {
      "data": {"name": "pts"},
      "mark": {"type": "point", "filled": true, "opacity": 1, "stroke": "black"},
      "encoding": {
        "x": {
          "field": "t", "type": "temporal",
          "scale": {"domain": [{"year": 2013, "month": 1, "date": 24, "hours": 11, "minutes": 0}, {"year": 2013, "month": 1, "date": 24, "hours": 12, "minutes": 30}], "nice": false},
          "axis": {
            "title": "Time", "titleFont": "Lato", "titleFontSize": 22, "titleFontWeight": "bold", "titleColor": "black", "titlePadding": 6,
            "format": "%H:%M:%S",
            "values": [
              {"year": 2013, "month": 1, "date": 24, "hours": 11, "minutes": 0},
              {"year": 2013, "month": 1, "date": 24, "hours": 11, "minutes": 15},
              {"year": 2013, "month": 1, "date": 24, "hours": 11, "minutes": 30},
              {"year": 2013, "month": 1, "date": 24, "hours": 11, "minutes": 45},
              {"year": 2013, "month": 1, "date": 24, "hours": 12, "minutes": 0},
              {"year": 2013, "month": 1, "date": 24, "hours": 12, "minutes": 15},
              {"year": 2013, "month": 1, "date": 24, "hours": 12, "minutes": 30}
            ],
            "labelFont": "Lato", "labelFontSize": 14, "labelColor": "black", "labelFlush": false, "labelPadding": 18,
            "domainColor": "black", "domainWidth": 2, "tickColor": "black", "tickWidth": 2, "tickSize": -4,
            "grid": true, "gridColor": "#8a8a8a", "gridDash": [3, 3], "gridWidth": 1
          }
        },
        "y": {
          "field": "v", "type": "quantitative",
          "scale": {"domain": [15, 25], "nice": false, "zero": false},
          "axis": {
            "title": "Temperatue (°C)", "titleFont": "Lato", "titleFontSize": 21, "titleFontWeight": "bold", "titleColor": "black", "titlePadding": 18,
            "values": [15, 16, 17, 18, 19, 20, 21, 22, 23, 24, 25], "format": ".1f",
            "labelFont": "Lato", "labelFontSize": 14, "labelColor": "black", "labelPadding": 24, "labelFlush": false,
            "domainColor": "black", "domainWidth": 2, "tickColor": "black", "tickWidth": 2, "tickSize": -5,
            "grid": true, "gridColor": "#8a8a8a", "gridDash": [3, 3], "gridWidth": 1
          }
        },
        "fill": {
          "field": "s", "type": "nominal",
          "scale": {
            "domain": ["Thermocouple 1", "Thermocouple 2", "Internal TMP100", "External 1 TMP100", "External 2 TMP100", "RTC Temp DS3231"],
            "range": ["white", "#858585", "#a8a8a8", "#999999", "black", "white"]
          },
          "legend": {
            "title": null, "orient": "none", "legendX": 548, "legendY": 12, "padding": 0,
            "labelFont": "Lato", "labelFontSize": 14, "labelFontWeight": "bold", "labelColor": "black", "labelOffset": 1,
            "rowPadding": 5.5, "symbolStrokeColor": "black", "symbolStrokeWidth": 1.2, "symbolSize": 100
          }
        },
        "shape": {
          "field": "s", "type": "nominal",
          "scale": {
            "domain": ["Thermocouple 1", "Thermocouple 2", "Internal TMP100", "External 1 TMP100", "External 2 TMP100", "RTC Temp DS3231"],
            "range": ["M-1,-1L1,-1L1,1L-1,1Z M-1,-1L1,1 M1,-1L-1,1", "circle", "diamond", "square", "M-1,-1L1,-1L1,1L-1,1Z M-0.28,-0.8L-0.28,-0.28L-0.8,-0.28L-0.8,0.28L-0.28,0.28L-0.28,0.8L0.28,0.8L0.28,0.28L0.8,0.28L0.8,-0.28L0.28,-0.28L0.28,-0.8Z", "circle"]
          }
        },
        "size": {
          "condition": [
            {"test": "datum.s === 'Internal TMP100'", "value": 70},
            {"test": "datum.s === 'External 2 TMP100' || datum.s === 'Thermocouple 1'", "value": 110},
            {"test": "datum.s === 'Thermocouple 2'", "value": 100}
          ],
          "value": 85
        },
        "strokeWidth": {
          "condition": {"test": "datum.s === 'Internal TMP100'", "value": 2.6},
          "value": 1.1
        }
      }
    },
    {
      "data": {"name": "notes"},
      "mark": {"type": "text", "align": "left", "baseline": "middle", "font": "Lato", "fontWeight": "bold", "fontSize": 15, "color": "black"},
      "encoding": {
        "x": {"field": "t", "type": "temporal"},
        "y": {"field": "v", "type": "quantitative"},
        "text": {"field": "label", "type": "nominal"}
      }
    }
  ]
}
